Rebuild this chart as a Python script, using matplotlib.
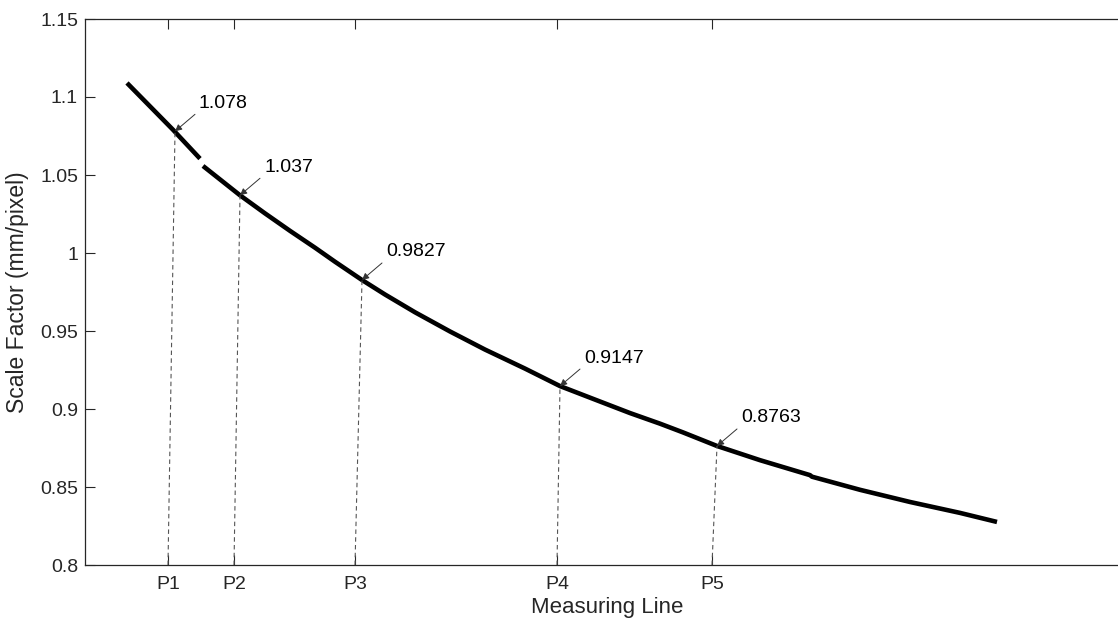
import numpy as np
import matplotlib
matplotlib.use("Agg")
from matplotlib import pyplot as plt

plt.rcParams['font.family'] = ['Liberation Sans', 'DejaVu Sans']

# curve (x = position along measuring line, arbitrary units)
x_seg1 = [42, 65, 88, 115]
y_seg1 = [1.109, 1.094, 1.079, 1.0605]
x_seg2 = [118, 155, 180, 205, 230, 250, 277, 300, 330, 365, 400, 440, 475,
          515, 545, 575, 598, 632, 675, 725, 727, 775, 825, 875, 912]
y_seg2 = [1.0558, 1.037, 1.0254, 1.0142, 1.0034, 0.9944, 0.9827, 0.9734,
          0.9620, 0.9497, 0.9381, 0.9259, 0.9147, 0.9048, 0.8974, 0.8906,
          0.8850, 0.8763, 0.8672, 0.8576, 0.8566, 0.8482, 0.8404, 0.8334,
          0.8276]

# measuring points
p_names = ["P1", "P2", "P3", "P4", "P5"]
p_tick = [83, 149, 270, 472, 627]
p_x = [90, 155, 277, 475, 632]
p_val = [1.078, 1.037, 0.9827, 0.9147, 0.8763]
p_text = ["1.078", "1.037", "0.9827", "0.9147", "0.8763"]

y_ticks = [0.8, 0.85, 0.9, 0.95, 1.0, 1.05, 1.1, 1.15]
y_labels = ["0.8", "0.85", "0.9", "0.95", "1", "1.05", "1.1", "1.15"]

fig = plt.figure(figsize=(11.18, 6.23), dpi=100)
ax = fig.add_axes([85/1118, 1 - 565/623, 1045/1118, 546/623])

ax.plot(x_seg1, y_seg1, color="black", lw=3.3, solid_capstyle="butt",
        solid_joinstyle="round")
ax.plot(x_seg2, y_seg2, color="black", lw=3.3, solid_capstyle="butt",
        solid_joinstyle="round")

for xt, xp, v, t in zip(p_tick, p_x, p_val, p_text):
    ax.plot([xt, xp], [0.8, v], color="#555555", lw=0.8, dashes=(4, 3))
    ax.annotate("", xy=(xp, v), xytext=(20, 17), textcoords="offset pixels",
                arrowprops=dict(arrowstyle="-|>", color="#333333", lw=0.7,
                                mutation_scale=10, shrinkA=0, shrinkB=0))
    ax.annotate(t, xy=(xp, v), xytext=(24, 28), textcoords="offset pixels",
                ha="left", va="center", fontsize=14, color="black")

ax.set_xlim(0, 1045)
ax.set_ylim(0.8, 1.15)
ax.set_xticks(p_tick)
ax.set_xticklabels(p_names)
ax.set_yticks(y_ticks)
ax.set_yticklabels(y_labels)
ax.tick_params(direction="in", length=7.5, width=0.8, colors="#262626",
               labelsize=14, top=True, right=True)
ax.tick_params(axis="x", pad=8)
ax.tick_params(axis="y", pad=5)
for s in ax.spines.values():
    s.set_color("#262626")
    s.set_linewidth(0.9)

ax.set_xlabel("Measuring Line", fontsize=16, color="#262626", labelpad=3)
ax.set_ylabel("Scale Factor (mm/pixel)", fontsize=16.5, color="#262626", labelpad=8)

fig.savefig("out.png", dpi=100)
